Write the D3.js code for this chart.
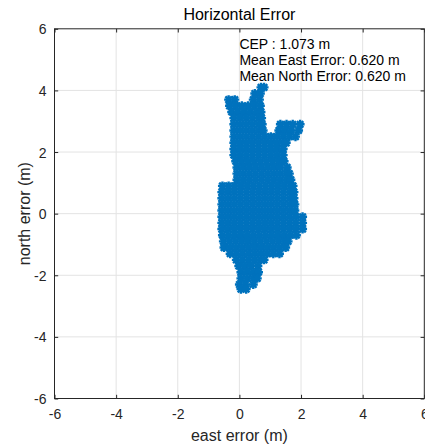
<!DOCTYPE html>
<html>
<head>
<meta charset="utf-8">
<script src="https://cdn.jsdelivr.net/npm/d3@7"></script>
<style>
  html, body { margin: 0; padding: 0; background: #fff; }
  svg { display: block; font-family: "Liberation Sans", Arial, Helvetica, sans-serif; }
</style>
</head>
<body>
<svg id="chart" width="425" height="448"></svg>
<script>
// Axis ticks (m)
const xTicks = [-6, -4, -2, 0, 2, 4, 6];
const yTicks = [-6, -4, -2, 0, 2, 4, 6];

// Scatter of horizontal error.
// northRows[i] is the north error of row i, eastRows[i] the east errors in that row.
const northRows = [4.1, 3.9, 3.7, 3.5, 3.3, 3.1, 2.9, 2.7, 2.5, 2.3, 2.1, 1.9, 1.7, 1.5, 1.3, 1.1,
  0.9, 0.7, 0.5, 0.3, 0.1, -0.1, -0.3, -0.5, -0.7, -0.9, -1.1, -1.3, -1.5, -1.7, -1.9, -2.1, -2.3, -2.45];
const eastRows = [
  [0.7, 0.8],
  [0.5, 0.68],
  [-0.35, -0.15, 0.45, 0.65],
  [-0.32, -0.12, 0.08, 0.28, 0.48, 0.68],
  [-0.25, -0.05, 0.15, 0.35, 0.55, 0.7],
  [-0.18, 0.02, 0.22, 0.42, 0.62, 0.72],
  [-0.18, 0.02, 0.22, 0.42, 0.62, 0.74, 1.33, 1.53, 1.73, 1.97],
  [-0.18, 0.02, 0.22, 0.42, 0.62, 0.77, 1.28, 1.48, 1.68, 1.92],
  [-0.18, 0.02, 0.22, 0.42, 0.62, 0.82, 1.02, 1.22, 1.42, 1.62, 1.82],
  [-0.18, 0.02, 0.22, 0.42, 0.62, 0.82, 1.02, 1.22, 1.42, 1.52],
  [-0.18, 0.02, 0.22, 0.42, 0.62, 0.82, 1.02, 1.22, 1.42],
  [-0.18, 0.02, 0.22, 0.42, 0.62, 0.82, 1.02, 1.22, 1.42],
  [-0.12, 0.08, 0.28, 0.48, 0.68, 0.88, 1.08, 1.28, 1.45],
  [-0.08, 0.12, 0.32, 0.52, 0.72, 0.92, 1.12, 1.32, 1.55],
  [-0.08, 0.12, 0.32, 0.52, 0.72, 0.92, 1.12, 1.32, 1.52, 1.62],
  [-0.08, 0.12, 0.32, 0.52, 0.72, 0.92, 1.12, 1.32, 1.52, 1.67],
  [-0.55, -0.35, -0.15, 0.05, 0.25, 0.45, 0.65, 0.85, 1.05, 1.25, 1.45, 1.65, 1.74],
  [-0.57, -0.37, -0.17, 0.03, 0.23, 0.43, 0.63, 0.83, 1.03, 1.23, 1.43, 1.63, 1.77],
  [-0.57, -0.37, -0.17, 0.03, 0.23, 0.43, 0.63, 0.83, 1.03, 1.23, 1.43, 1.63, 1.77],
  [-0.57, -0.37, -0.17, 0.03, 0.23, 0.43, 0.63, 0.83, 1.03, 1.23, 1.43, 1.63, 1.8],
  [-0.57, -0.37, -0.17, 0.03, 0.23, 0.43, 0.63, 0.83, 1.03, 1.23, 1.43, 1.63, 1.8],
  [-0.57, -0.37, -0.17, 0.03, 0.23, 0.43, 0.63, 0.83, 1.03, 1.23, 1.43, 1.63, 1.83, 2.05],
  [-0.57, -0.37, -0.17, 0.03, 0.23, 0.43, 0.63, 0.83, 1.03, 1.23, 1.43, 1.63, 1.83, 2.05],
  [-0.57, -0.37, -0.17, 0.03, 0.23, 0.43, 0.63, 0.83, 1.03, 1.23, 1.43, 1.63, 1.83, 2.05],
  [-0.55, -0.35, -0.15, 0.05, 0.25, 0.45, 0.65, 0.85, 1.05, 1.25, 1.45, 1.65, 1.85],
  [-0.52, -0.32, -0.12, 0.08, 0.28, 0.48, 0.68, 0.88, 1.08, 1.28, 1.48, 1.58],
  [-0.5, -0.3, -0.1, 0.1, 0.3, 0.5, 0.7, 0.9, 1.1, 1.3, 1.5],
  [-0.3, -0.1, 0.1, 0.3, 0.5, 0.7, 0.9, 1.1, 1.3],
  [-0.1, 0.1, 0.3, 0.5, 0.7, 0.8],
  [-0.02, 0.18, 0.38, 0.6],
  [0.05, 0.25, 0.45, 0.62],
  [0.05, 0.25, 0.45, 0.58],
  [0.0, 0.2, 0.45],
  [0.05, 0.22]
];

const statLines = ["CEP : 1.073 m", "Mean East Error: 0.620 m", "Mean North Error: 0.620 m"];

// Layout
const plotLeft = 54.5, plotRight = 424.3, plotTop = 28.8, plotBottom = 398.5;
const axisColor = "#262626";
const gridColor = "#e3e3e3";
const markerColor = "#0072BD";

const svg = d3.select("#chart");

const x = d3.scaleLinear().domain([-6, 6]).range([plotLeft, plotRight]);
const y = d3.scaleLinear().domain([-6, 6]).range([plotBottom, plotTop]);

// grid
const grid = svg.append("g").attr("stroke", gridColor).attr("stroke-width", 1);
grid.selectAll("line.vx")
  .data(xTicks.slice(1, -1))
  .join("line")
  .attr("class", "vx")
  .attr("x1", d => x(d)).attr("x2", d => x(d))
  .attr("y1", plotTop).attr("y2", plotBottom);
grid.selectAll("line.hy")
  .data(yTicks.slice(1, -1))
  .join("line")
  .attr("class", "hy")
  .attr("y1", d => y(d)).attr("y2", d => y(d))
  .attr("x1", plotLeft).attr("x2", plotRight);

// points
const points = [];
northRows.forEach((n, i) => eastRows[i].forEach(e => points.push({ east: e, north: n })));

const r = 4.5, dg = r * 0.72;
const star = `M${-r},0L${r},0M0,${-r}L0,${r}M${-dg},${-dg}L${dg},${dg}M${-dg},${dg}L${dg},${-dg}`;

svg.append("g")
  .attr("stroke", markerColor)
  .attr("stroke-width", 2.4)
  .attr("fill", "none")
  .selectAll("path")
  .data(points)
  .join("path")
  .attr("transform", d => `translate(${x(d.east)},${y(d.north)})`)
  .attr("d", star);

// axes: ticks inside, on all four sides; plain hyphen for negatives like the reference
const tickLen = 3.7;
const fmt = d => String(d);
const xAxisB = d3.axisBottom(x).tickValues(xTicks).tickFormat(fmt).tickSizeInner(-tickLen).tickSizeOuter(0).tickPadding(10);
const xAxisT = d3.axisTop(x).tickValues(xTicks).tickSizeInner(-tickLen).tickSizeOuter(0).tickFormat("");
const yAxisL = d3.axisLeft(y).tickValues(yTicks).tickFormat(fmt).tickSizeInner(-tickLen).tickSizeOuter(0).tickPadding(8);
const yAxisR = d3.axisRight(y).tickValues(yTicks).tickSizeInner(-tickLen).tickSizeOuter(0).tickFormat("");

function style(g) {
  g.select(".domain").remove();
  g.selectAll(".tick line").attr("stroke", axisColor);
  g.selectAll(".tick text")
    .attr("fill", axisColor)
    .attr("font-size", 14)
    .attr("font-family", "Liberation Sans, Arial, sans-serif");
}

svg.append("g").attr("transform", `translate(0,${plotBottom})`).call(xAxisB).call(style)
  .selectAll(".tick text").attr("dy", "0.71em").attr("y", 11);
svg.append("g").attr("transform", `translate(0,${plotTop})`).call(xAxisT).call(style);
svg.append("g").attr("transform", `translate(${plotLeft},0)`).call(yAxisL).call(style)
  .selectAll(".tick text").attr("dy", "0.36em");
svg.append("g").attr("transform", `translate(${plotRight},0)`).call(yAxisR).call(style);

// box
svg.append("rect")
  .attr("x", plotLeft).attr("y", plotTop)
  .attr("width", plotRight - plotLeft).attr("height", plotBottom - plotTop)
  .attr("fill", "none")
  .attr("stroke", axisColor)
  .attr("stroke-width", 1);

// title & labels
svg.append("text")
  .attr("x", (plotLeft + plotRight) / 2).attr("y", 20)
  .attr("text-anchor", "middle")
  .attr("font-size", 16)
  .attr("fill", "#000")
  .text("Horizontal Error");

svg.append("text")
  .attr("x", (plotLeft + plotRight) / 2).attr("y", 441)
  .attr("text-anchor", "middle")
  .attr("font-size", 16)
  .attr("fill", axisColor)
  .text("east error (m)");

svg.append("text")
  .attr("transform", `translate(29.5,${(plotTop + plotBottom) / 2}) rotate(-90)`)
  .attr("text-anchor", "middle")
  .attr("font-size", 16)
  .attr("fill", axisColor)
  .text("north error (m)");

// stats annotation, anchored at east = 0
svg.append("g")
  .selectAll("text")
  .data(statLines)
  .join("text")
  .attr("x", x(0))
  .attr("y", (d, i) => 49.3 + i * 15.6)
  .attr("font-size", 14)
  .attr("fill", "#000")
  .text(d => d);
</script>
</body>
</html>
